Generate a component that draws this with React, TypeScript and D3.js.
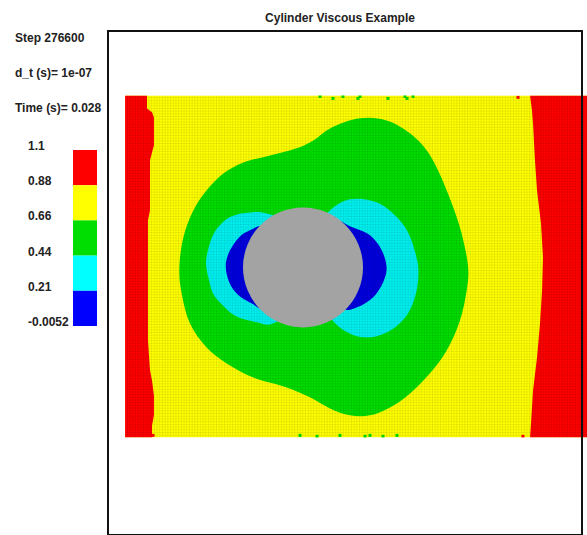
import React, { useEffect, useRef } from 'react';
import * as d3 from 'd3';

// positions are in cylinder diameters, origin at the cylinder centre, y up
type Pt = [number, number];

const title = 'Cylinder Viscous Example';
const infoLines = ['Step 276600', 'd_t (s)= 1e-07', 'Time (s)= 0.028'];

const levelTicks = ['1.1', '0.88', '0.66', '0.44', '0.21', '-0.0052'];
const levelColors = ['#ff0000', '#ffff00', '#00dd00', '#00ffff', '#0000ff'];

const frameX = [-1.625, 2.325];
const frameY = [-2.23, 1.97];
const particleX = [-1.483, 2.45];
const particleY = [-1.417, 1.433];
const cylinderRadius = 0.5;

// left (inflow) red band, front from top to bottom
const leftFront: Pt[] = [
  [-1.3, 1.433], [-1.3, 1.325], [-1.258, 1.292], [-1.242, 1.25], [-1.242, 1.017],
  [-1.275, 0.892], [-1.275, 0.475], [-1.292, 0.392], [-1.292, -0.608], [-1.275, -0.858],
  [-1.258, -0.942], [-1.242, -1.067], [-1.242, -1.233], [-1.258, -1.317], [-1.258, -1.417],
];

// right red band, front from top to bottom
const rightFront: Pt[] = [
  [1.892, 1.433], [1.908, 1.308], [1.917, 1.2], [1.933, 0.892], [1.95, 0.642],
  [1.983, 0.367], [2.0, 0.083], [1.992, -0.192], [1.975, -0.467], [1.95, -0.75],
  [1.917, -1.025], [1.9, -1.3], [1.892, -1.417],
];

const greenZone: Pt[] = [
  [0.475, 1.242], [0.697, 1.225], [0.892, 1.117], [1.031, 0.975], [1.114, 0.833],
  [1.197, 0.642], [1.281, 0.417], [1.336, 0.225], [1.378, -0.025], [1.364, -0.192],
  [1.308, -0.442], [1.197, -0.692], [1.058, -0.883], [0.892, -1.05], [0.725, -1.167],
  [0.558, -1.233], [0.392, -1.233], [0.225, -1.175], [0.058, -1.083], [-0.136, -1.0],
  [-0.414, -0.917], [-0.636, -0.8], [-0.803, -0.667], [-0.942, -0.467], [-1.011, -0.217],
  [-1.031, -0.025], [-0.997, 0.25], [-0.914, 0.475], [-0.803, 0.642], [-0.664, 0.783],
  [-0.497, 0.875], [-0.275, 0.933], [-0.053, 0.992], [0.086, 1.058], [0.225, 1.158],
];

const cyanLeft: Pt[] = [
  [-0.303, 0.45], [-0.442, 0.458], [-0.608, 0.419], [-0.733, 0.3], [-0.792, 0.142],
  [-0.808, 0.033], [-0.783, -0.108], [-0.75, -0.217], [-0.667, -0.317], [-0.558, -0.408],
  [-0.386, -0.458], [-0.275, -0.475], [-0.025, -0.275], [-0.025, 0.308],
];

const cyanRight: Pt[] = [
  [0.225, 0.475], [0.392, 0.567], [0.614, 0.542], [0.781, 0.419], [0.875, 0.292],
  [0.942, 0.1], [0.961, 0.0], [0.947, -0.192], [0.864, -0.4], [0.697, -0.542],
  [0.503, -0.583], [0.308, -0.5], [0.142, -0.275], [0.058, 0.225],
];

const blueLeft: Pt[] = [
  [-0.425, 0.317], [-0.525, 0.258], [-0.608, 0.142], [-0.642, 0.042], [-0.633, -0.067],
  [-0.592, -0.167], [-0.525, -0.242], [-0.425, -0.3], [-0.342, -0.342], [-0.108, 0.0],
  [-0.342, 0.342],
];

const blueRight: Pt[] = [
  [0.392, 0.342], [0.558, 0.267], [0.656, 0.142], [0.697, -0.008], [0.667, -0.125],
  [0.583, -0.25], [0.45, -0.333], [0.35, -0.35], [0.142, 0.0], [0.267, 0.392],
];

// loose particles sitting on the top and bottom walls
const strayGreen: Pt[] = [
  [0.142, 1.425], [0.25, 1.408], [0.333, 1.425], [0.458, 1.408], [0.475, 1.425],
  [0.708, 1.408], [0.85, 1.425], [0.867, 1.408], [0.917, 1.425],
  [-0.025, -1.4], [0.117, -1.408], [0.308, -1.4], [0.517, -1.408], [0.558, -1.4],
  [0.667, -1.408], [0.783, -1.4],
];
const strayRed: Pt[] = [[-1.25, -1.4], [1.833, -1.408], [1.792, 1.417]];

const App: React.FC = () => {
  const containerRef = useRef<HTMLDivElement>(null);

  useEffect(() => {
    if (containerRef && containerRef.current) {
      drawChart(containerRef.current);
    }
  }, [containerRef]);

  return <div ref={containerRef}></div>;
};

const drawChart = (container: HTMLDivElement) => {
  d3.select(container).selectAll('*').remove();

  const width = 587;
  const height = 535;
  const margin = { top: 31, left: 108, right: 5, bottom: 0 };

  const svg = d3
    .select(container)
    .append('svg')
    .attr('width', width)
    .attr('height', height)
    .style('position', 'absolute')
    .style('left', '0px')
    .style('top', '0px')
    .style('font-family', '"Liberation Sans", Arial, sans-serif')
    .style('font-weight', 'bold');

  const x = d3.scaleLinear().domain(frameX).range([margin.left, width - margin.right]);
  const y = d3.scaleLinear().domain(frameY).range([height - margin.bottom, margin.top]);

  const defs = svg.append('defs');
  defs
    .append('clipPath')
    .attr('id', 'particles')
    .append('rect')
    .attr('x', x(particleX[0]))
    .attr('y', y(particleY[1]))
    .attr('width', x(particleX[1]) - x(particleX[0]))
    .attr('height', y(particleY[0]) - y(particleY[1]));

  const step = 2.7;
  const grain = defs
    .append('pattern')
    .attr('id', 'grain')
    .attr('patternUnits', 'userSpaceOnUse')
    .attr('width', step)
    .attr('height', step);
  grain
    .append('path')
    .attr('d', `M0,0H${step}M0,0V${step}`)
    .attr('stroke', '#000')
    .attr('stroke-opacity', 0.18)
    .attr('stroke-width', 0.8);

  const line = d3
    .line<Pt>()
    .x((d) => x(d[0]))
    .y((d) => y(d[1]));
  const smooth = d3
    .line<Pt>()
    .x((d) => x(d[0]))
    .y((d) => y(d[1]))
    .curve(d3.curveCatmullRomClosed.alpha(0.5));

  const field = svg.append('g').attr('clip-path', 'url(#particles)');

  field
    .append('rect')
    .attr('x', x(particleX[0]))
    .attr('y', y(particleY[1]))
    .attr('width', x(particleX[1]) - x(particleX[0]))
    .attr('height', y(particleY[0]) - y(particleY[1]))
    .attr('fill', levelColors[1]);

  const leftBand: Pt[] = [...leftFront, [particleX[0], particleY[0]], [particleX[0], particleY[1]]];
  const rightBand: Pt[] = [...rightFront, [particleX[1], particleY[0]], [particleX[1], particleY[1]]];
  field.append('path').attr('d', line(leftBand)).attr('fill', levelColors[0]);
  field.append('path').attr('d', line(rightBand)).attr('fill', levelColors[0]);

  field.append('path').attr('d', smooth(greenZone)).attr('fill', '#00dd00');
  [cyanLeft, cyanRight].forEach((zone) => {
    field.append('path').attr('d', smooth(zone)).attr('fill', '#00f0f0');
  });
  [blueLeft, blueRight].forEach((zone) => {
    field.append('path').attr('d', smooth(zone)).attr('fill', '#0000dd');
  });

  const size = 3;
  field
    .selectAll('.stray-green')
    .data(strayGreen)
    .enter()
    .append('rect')
    .attr('x', (d) => x(d[0]) - size / 2)
    .attr('y', (d) => y(d[1]) - size / 2)
    .attr('width', size)
    .attr('height', size)
    .attr('fill', '#00dd00');
  field
    .selectAll('.stray-red')
    .data(strayRed)
    .enter()
    .append('rect')
    .attr('x', (d) => x(d[0]) - size / 2)
    .attr('y', (d) => y(d[1]) - size / 2)
    .attr('width', size)
    .attr('height', size)
    .attr('fill', levelColors[0]);

  field
    .append('rect')
    .attr('x', x(particleX[0]))
    .attr('y', y(particleY[1]))
    .attr('width', x(particleX[1]) - x(particleX[0]))
    .attr('height', y(particleY[0]) - y(particleY[1]))
    .attr('fill', 'url(#grain)');

  svg
    .append('circle')
    .attr('cx', x(0))
    .attr('cy', y(0))
    .attr('r', x(cylinderRadius) - x(0))
    .attr('fill', '#a3a3a3');

  // frame, its bottom edge runs along the lower border of the picture
  svg
    .append('rect')
    .attr('x', x(frameX[0]))
    .attr('y', y(frameY[1]))
    .attr('width', x(frameX[1]) - x(frameX[0]))
    .attr('height', y(frameY[0]) - y(frameY[1]))
    .attr('fill', 'none')
    .attr('stroke', '#111')
    .attr('stroke-width', 2);

  svg
    .append('text')
    .attr('x', 340)
    .attr('y', 22)
    .attr('text-anchor', 'middle')
    .style('font-size', '12px')
    .attr('fill', '#222')
    .text(title);

  svg
    .selectAll('.info')
    .data(infoLines)
    .enter()
    .append('text')
    .attr('x', 15)
    .attr('y', (d, i) => 42 + i * 35)
    .style('font-size', '12px')
    .attr('fill', '#222')
    .text((d) => d);

  // colour bar
  const barY = d3.scalePoint<string>().domain(levelTicks).range([150, 326]);
  const bar = svg.append('g');
  bar
    .selectAll('rect')
    .data(levelColors)
    .enter()
    .append('rect')
    .attr('x', 73)
    .attr('y', (d, i) => barY(levelTicks[i]) || 0)
    .attr('width', 24)
    .attr('height', (d, i) => (barY(levelTicks[i + 1]) || 0) - (barY(levelTicks[i]) || 0))
    .attr('fill', (d) => d);
  bar
    .selectAll('text')
    .data(levelTicks)
    .enter()
    .append('text')
    .attr('x', 28)
    .attr('y', (d) => barY(d) || 0)
    .style('font-size', '12px')
    .attr('fill', '#222')
    .text((d) => d);
};

export default App;
